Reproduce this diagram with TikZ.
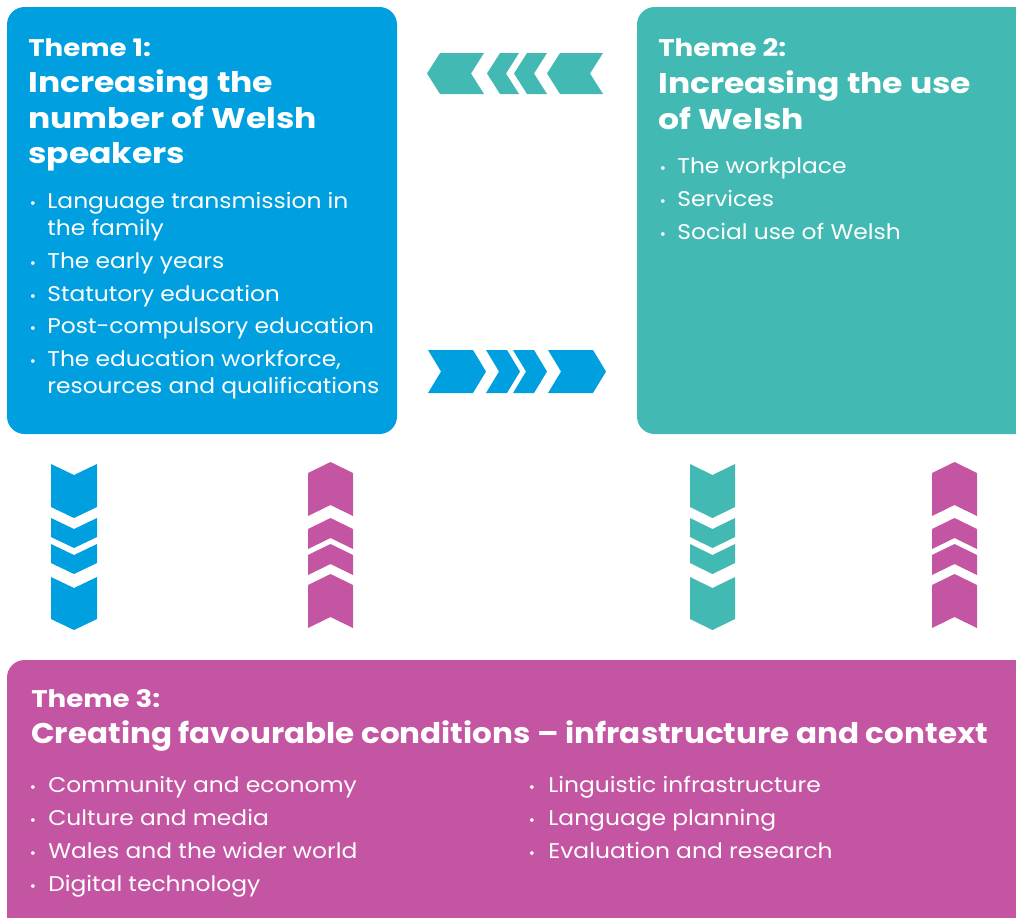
\documentclass[tikz,border=0pt]{standalone}
\usepackage{fontspec}
\setmainfont{Poppins}
\newfontfamily\itemfont[FakeStretch=1.10]{Poppins}
\newfontfamily\labelfont[FakeStretch=1.15]{Poppins}
\newfontfamily\headfont[FakeStretch=1.16]{Poppins}
\newfontfamily\headfontb[FakeStretch=1.09]{Poppins}
\definecolor{wblue}{RGB}{0,159,223}
\definecolor{wteal}{RGB}{67,185,179}
\definecolor{wmag}{RGB}{196,85,163}
\newcommand{\chevleft}[5]{\fill[#1] (#2,{(#4+#5)/2}) -- ({#2+13},#4) -- (#3,#4) -- ({#3-13},{(#4+#5)/2}) -- (#3,#5) -- ({#2+13},#5) -- cycle;}
\newcommand{\chevright}[5]{\fill[#1] (#2,#4) -- ({#3-13},#4) -- (#3,{(#4+#5)/2}) -- ({#3-13},#5) -- (#2,#5) -- ({#2+13},{(#4+#5)/2}) -- cycle;}
\newcommand{\chevdown}[5]{\fill[#1] (#2,#4) -- ({(#2+#3)/2},{#4+11}) -- (#3,#4) -- (#3,{#5-11}) -- ({(#2+#3)/2},#5) -- (#2,{#5-11}) -- cycle;}
\newcommand{\chevup}[5]{\fill[#1] ({(#2+#3)/2},#4) -- (#3,{#4+11}) -- (#3,#5) -- ({(#2+#3)/2},{#5-11}) -- (#2,#5) -- (#2,{#4+11}) -- cycle;}
\tikzset{
  box/.style={rounded corners=10pt},
  lbl/.style={anchor=base west, inner sep=0pt, text=white, font=\labelfont\fontsize{13.7}{15}\selectfont\bfseries},
  head/.style={anchor=base west, inner sep=0pt, text=white, font=\headfont\fontsize{16.2}{18}\selectfont\bfseries},
  headb/.style={anchor=base west, inner sep=0pt, text=white, font=\headfontb\fontsize{16.2}{18}\selectfont\bfseries},
  item/.style={anchor=base west, inner sep=0pt, text=white, font=\itemfont\fontsize{12.1}{14}\selectfont},
  dot/.style={anchor=base, inner sep=0pt, text=white, font=\fontsize{8.5}{10}\selectfont},
}
\begin{document}
\begin{tikzpicture}[x=0.02cm, y=-0.02cm]
\useasboundingbox (0,0) rectangle (1016,917);
\clip (0,0) rectangle (1016,917);
% boxes
\fill[wblue, box] (7,7) rectangle (397,434);
\fill[wteal, box] (637,7) rectangle (1040,434);
\fill[wmag, box] (7,660) rectangle (1040,940);
% Theme 1
\node[lbl] (t1l) at (28,56) {Theme 1:};
\node[head] (t1a) at (28,92) {Increasing the};
\node[head] (t1b) at (28,128) {number of Welsh};
\node[head] (t1c) at (28,163) {speakers};
\node[dot] (d11) at (33,208) {•};
\node[item] (i11) at (47,208) {Language transmission in};
\node[item] (i11b) at (47,235) {the family};
\node[dot] (d12) at (33,268) {•};
\node[item] (i12) at (47,268) {The early years};
\node[dot] (d13) at (33,301) {•};
\node[item] (i13) at (47,301) {Statutory education};
\node[dot] (d14) at (33,333) {•};
\node[item] (i14) at (47,333) {Post-compulsory education};
\node[dot] (d15) at (33,366) {•};
\node[item] (i15) at (47,366) {The education workforce,};
\node[item] (i15b) at (47,393) {resources and qualifications};
% Theme 2
\node[lbl] (t2l) at (658,56) {Theme 2:};
\node[head] (t2a) at (658,93) {Increasing the use};
\node[head] (t2b) at (658,129) {of Welsh};
\node[dot] (d21) at (663,173) {•};
\node[item] (i21) at (677,173) {The workplace};
\node[dot] (d22) at (663,206) {•};
\node[item] (i22) at (677,206) {Services};
\node[dot] (d23) at (663,239) {•};
\node[item] (i23) at (677,239) {Social use of Welsh};
% Theme 3
\node[lbl] (t3l) at (31,707) {Theme 3:};
\node[headb] (t3a) at (31,743) {Creating favourable conditions – infrastructure and context};
\node[dot] (d31) at (33,792) {•};
\node[item] (i31) at (48,792) {Community and economy};
\node[dot] (d32) at (33,825) {•};
\node[item] (i32) at (48,825) {Culture and media};
\node[dot] (d33) at (33,858) {•};
\node[item] (i33) at (48,858) {Wales and the wider world};
\node[dot] (d34) at (33,891) {•};
\node[item] (i34) at (48,891) {Digital technology};
\node[dot] (d35) at (532,792) {•};
\node[item] (i35) at (548,792) {Linguistic infrastructure};
\node[dot] (d36) at (532,825) {•};
\node[item] (i36) at (548,825) {Language planning};
\node[dot] (d37) at (532,858) {•};
\node[item] (i37) at (548,858) {Evaluation and research};
% horizontal chevrons
\chevleft{wteal}{427}{484}{53}{94}
\chevleft{wteal}{487}{519}{53}{94}
\chevleft{wteal}{514}{547}{53}{94}
\chevleft{wteal}{547}{603}{53}{94}
\chevright{wblue}{428}{486}{350}{393}
\chevright{wblue}{486}{520}{350}{393}
\chevright{wblue}{513}{547}{350}{393}
\chevright{wblue}{548}{606}{350}{393}
% vertical chevrons down
\chevdown{wblue}{51}{97}{464}{518}
\chevdown{wblue}{51}{97}{518}{548}
\chevdown{wblue}{51}{97}{544}{574}
\chevdown{wblue}{51}{97}{577}{630}
\chevdown{wteal}{690}{735}{464}{518}
\chevdown{wteal}{690}{735}{518}{548}
\chevdown{wteal}{690}{735}{544}{574}
\chevdown{wteal}{690}{735}{577}{630}
% vertical chevrons up
\chevup{wmag}{308}{353}{462}{516}
\chevup{wmag}{308}{353}{518}{549}
\chevup{wmag}{308}{353}{544}{575}
\chevup{wmag}{308}{353}{574}{628}
\chevup{wmag}{932}{977}{462}{516}
\chevup{wmag}{932}{977}{518}{549}
\chevup{wmag}{932}{977}{544}{575}
\chevup{wmag}{932}{977}{574}{628}
\end{tikzpicture}
\end{document}
